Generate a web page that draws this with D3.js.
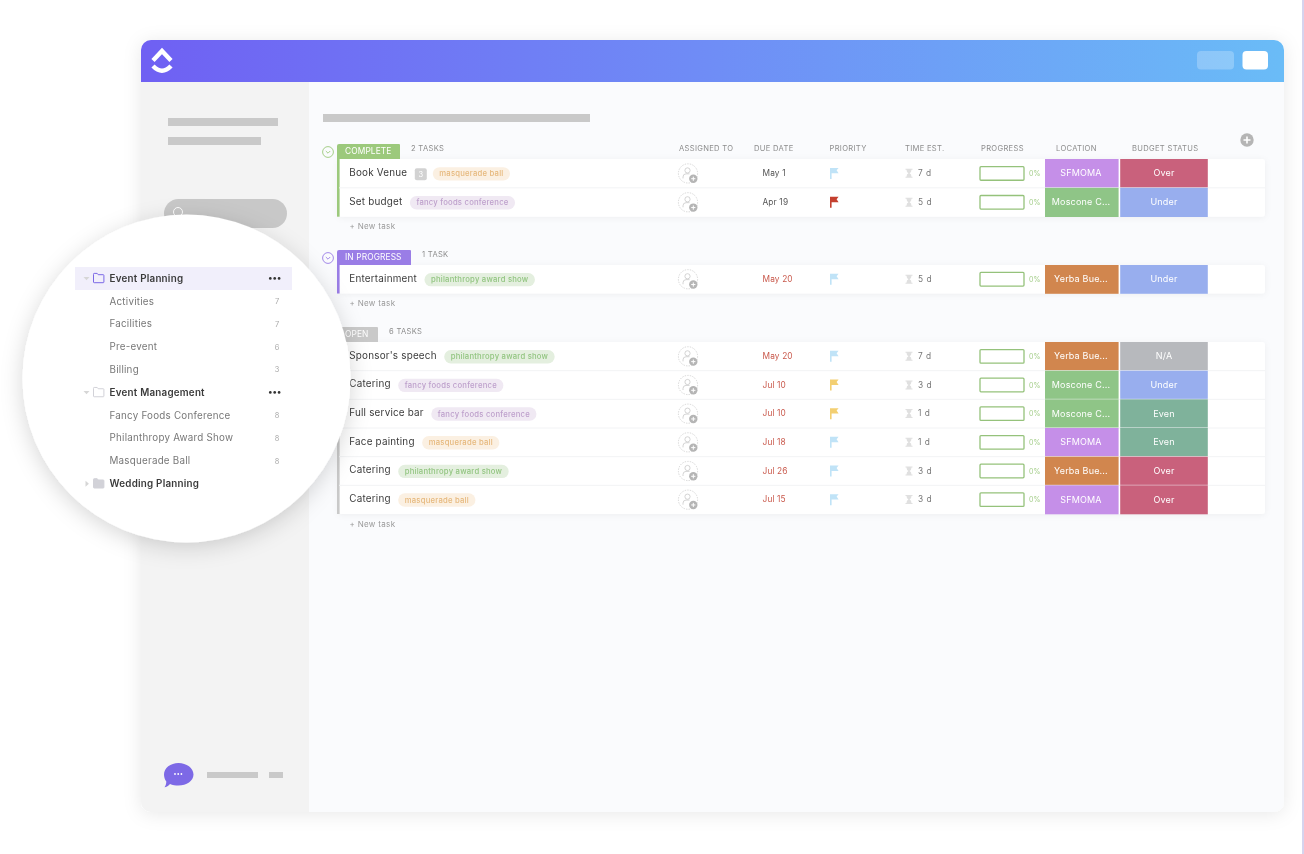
<!DOCTYPE html>
<html>
<head>
<meta charset="utf-8">
<script src="https://cdn.jsdelivr.net/npm/d3@7"></script>
<style>
html, body { margin: 0; padding: 0; background: #fff; overflow: hidden; }
svg { display: block; filter: blur(0.3px); }
text { font-family: "Inter", "Open Sans", sans-serif; }
</style>
</head>
<body>
<script>
var groupNames = ["COMPLETE", "IN PROGRESS", "OPEN"];
var groupCounts = ["2 TASKS", "1 TASK", "6 TASKS"];
var groupSizes = [2, 1, 6];

var columnNames = ["ASSIGNED TO", "DUE DATE", "PRIORITY", "TIME EST.", "PROGRESS", "LOCATION", "BUDGET STATUS"];

var taskNames = ["Book Venue", "Set budget", "Entertainment", "Sponsor's speech", "Catering", "Full service bar", "Face painting", "Catering", "Catering"];
var taskTags = ["masquerade ball", "fancy foods conference", "philanthropy award show", "philanthropy award show", "fancy foods conference", "fancy foods conference", "masquerade ball", "philanthropy award show", "masquerade ball"];
var subtaskCounts = [3, 0, 0, 0, 0, 0, 0, 0, 0];
var dueDates = ["May 1", "Apr 19", "May 20", "May 20", "Jul 10", "Jul 10", "Jul 18", "Jul 26", "Jul 15"];
var dueOverdue = [false, false, true, true, true, true, true, true, true];
var priorities = ["low", "urgent", "low", "low", "normal", "normal", "low", "low", "low"];
var timeEstimates = [7, 5, 5, 7, 3, 1, 1, 3, 3];
var progressValues = [0, 0, 0, 0, 0, 0, 0, 0, 0];
var locations = ["SFMOMA", "Moscone C...", "Yerba Bue...", "Yerba Bue...", "Moscone C...", "Moscone C...", "SFMOMA", "Yerba Bue...", "SFMOMA"];
var budgets = ["Over", "Under", "Under", "N/A", "Under", "Even", "Even", "Over", "Over"];

var sideLabels = ["Event Planning", "Activities", "Facilities", "Pre-event", "Billing", "Event Management", "Fancy Foods Conference", "Philanthropy Award Show", "Masquerade Ball", "Wedding Planning"];
var sideCounts = [null, 7, 7, 6, 3, null, 8, 8, 8, null];
var sideFolders = [true, false, false, false, false, true, false, false, false, true];

var groupColor = d3.scaleOrdinal().domain(groupNames).range(["#9cc97c", "#9a7de6", "#c9c9c9"]);
var tagFill = d3.scaleOrdinal().domain(["masquerade ball", "fancy foods conference", "philanthropy award show"]).range(["#fbf0e2", "#f0e9f3", "#e4efdf"]);
var tagText = d3.scaleOrdinal().domain(["masquerade ball", "fancy foods conference", "philanthropy award show"]).range(["#e6b87c", "#bd9fcb", "#92c580"]);
var flagColor = d3.scaleOrdinal().domain(["low", "normal", "urgent"]).range(["#c0e3f7", "#f3cf72", "#c4402f"]);
var locColor = d3.scaleOrdinal().domain(["SFMOMA", "Moscone C...", "Yerba Bue..."]).range(["#c58fe8", "#8fc587", "#d1864e"]);
var budgetColor = d3.scaleOrdinal().domain(["Over", "Under", "Even", "N/A"]).range(["#c9617c", "#98aeee", "#7fb29b", "#b7b9bd"]);

var width = 1304, height = 854;
var svg = d3.select("body").append("svg").attr("width", width).attr("height", height);
var defs = svg.append("defs");

var grad = defs.append("linearGradient").attr("id", "head").attr("x1", "0").attr("x2", "1").attr("y1", "0").attr("y2", "0");
grad.append("stop").attr("offset", "0").attr("stop-color", "#6f60f3");
grad.append("stop").attr("offset", "0.5").attr("stop-color", "#6f8df6");
grad.append("stop").attr("offset", "1").attr("stop-color", "#6abcf7");

function shadow(id, blur, dy, op) {
    var f = defs.append("filter").attr("id", id).attr("x", "-20%").attr("y", "-20%").attr("width", "140%").attr("height", "140%");
    f.append("feDropShadow").attr("dx", 0).attr("dy", dy).attr("stdDeviation", blur).attr("flood-color", "#000").attr("flood-opacity", op);
}
shadow("winShadow", 9, 2, 0.09);
shadow("circleShadow", 11, 5, 0.16);
shadow("rowShadow", 3, 1, 0.05);

defs.append("clipPath").attr("id", "winClip").append("rect")
    .attr("x", 141).attr("y", 40).attr("width", 1143).attr("height", 772).attr("rx", 10);

svg.append("rect").attr("x", 1302).attr("y", 0).attr("width", 2).attr("height", height).attr("fill", "#d6d4ee");

// app window
svg.append("rect").attr("x", 141).attr("y", 40).attr("width", 1143).attr("height", 772).attr("rx", 10)
    .attr("fill", "#fafbfd").attr("filter", "url(#winShadow)");
var win = svg.append("g").attr("clip-path", "url(#winClip)");
win.append("rect").attr("x", 141).attr("y", 82).attr("width", 168).attr("height", 730).attr("fill", "#f3f3f3");
win.append("rect").attr("x", 141).attr("y", 40).attr("width", 1143).attr("height", 42).attr("fill", "url(#head)");

// logo
var logo = svg.append("g").attr("fill", "none").attr("stroke", "#fff").attr("stroke-width", 4.4);
logo.append("path").attr("d", "M153 60.5 L162 51 L171 60.5").attr("stroke-linejoin", "miter");
logo.append("path").attr("d", "M153 66 Q162 75.5 171 66");

svg.append("rect").attr("x", 1197).attr("y", 51).attr("width", 37).attr("height", 18.5).attr("rx", 4).attr("fill", "#fff").attr("opacity", 0.24);
svg.append("rect").attr("x", 1242.5).attr("y", 51).attr("width", 25.5).attr("height", 18.5).attr("rx", 4).attr("fill", "#fff");

// placeholder bars
var barFill = "#c9c9c9";
[[323, 114, 267, 8], [168, 118, 110, 8], [168, 137, 93, 8], [207, 772, 51, 6], [269, 772, 14, 6]].forEach(function(b) {
    svg.append("rect").attr("x", b[0]).attr("y", b[1]).attr("width", b[2]).attr("height", b[3]).attr("fill", barFill);
});
svg.append("rect").attr("x", 164).attr("y", 199).attr("width", 123).attr("height", 29).attr("rx", 14.5).attr("fill", "#c8c8c8");
svg.append("circle").attr("cx", 178).attr("cy", 212).attr("r", 4.5).attr("fill", "none").attr("stroke", "#fff").attr("stroke-width", 1);

// chat bubble
svg.append("path").attr("d", "M178.5 763 C186.5 763 193.5 768 193.5 774.5 C193.5 781 186.5 785.5 178.5 785.5 C175.5 785.5 172.5 785 170 784 C168.5 786 166.5 787 164.5 787.3 C165.8 785.5 166.3 783.5 166.3 781.5 C164.8 779.5 164 777 164 774.5 C164 768 170.5 763 178.5 763 Z").attr("fill", "#7d69e6");
svg.selectAll(".chatdot").data(d3.range(3)).enter().append("circle")
    .attr("cx", function(d) { return 175 + d * 3.2; }).attr("cy", 774).attr("r", 0.9).attr("fill", "#fff");

// header columns
var colX = d3.scaleOrdinal().domain(columnNames).range([679, 754, 829.5, 905, 981, 1056, 1132]);
svg.selectAll(".colhead").data(columnNames).enter().append("text")
    .attr("class", "colhead")
    .attr("x", function(d) { return colX(d); })
    .attr("y", 151)
    .attr("font-size", 7.6)
    .attr("letter-spacing", 0.3)
    .attr("fill", "#8d8d8d")
    .text(function(d) { return d; });

svg.append("circle").attr("cx", 1247).attr("cy", 140).attr("r", 6.7).attr("fill", "#b5b5b5");
svg.append("path").attr("d", "M1243.5 140 H1250.5 M1247 136.5 V143.5").attr("stroke", "#fff").attr("stroke-width", 1.6);

// task rows
var groupBands = [[159, 216.7], [265, 293.5], [342, 514]];
var groupTagW = [63, 74, 41];
var groupCountX = [411, 422, 389];
var tasks = [];
var offset = 0;
groupNames.forEach(function(g, gi) {
    var y = d3.scaleBand().domain(d3.range(groupSizes[gi])).range(groupBands[gi]);
    d3.range(groupSizes[gi]).forEach(function(k) {
        var i = offset + k;
        tasks.push({ i: i, group: g, top: y(k), h: y.bandwidth() });
    });
    offset += groupSizes[gi];

    var g0 = groupBands[gi];
    svg.append("rect").attr("x", 338).attr("y", g0[0]).attr("width", 927).attr("height", g0[1] - g0[0]).attr("rx", 3)
        .attr("fill", "#fff").attr("filter", "url(#rowShadow)");
    svg.append("rect").attr("x", 337).attr("y", g0[0] - 1).attr("width", 2.6).attr("height", g0[1] - g0[0] + 1).attr("fill", groupColor(g));
    svg.append("path")
        .attr("d", "M337 " + (g0[0]) + " V" + (g0[0] - 13) + " q0 -2 2 -2 H" + (337 + groupTagW[gi] - 1) + " q1 0 1 1 V" + g0[0] + " Z")
        .attr("fill", groupColor(g));
    svg.append("text").attr("x", 345).attr("y", g0[0] - 4.6).attr("font-size", 8.4).attr("letter-spacing", 0.1).attr("fill", "#fff").text(g);
    svg.append("text").attr("x", groupCountX[gi]).attr("y", g0[0] - 8).attr("font-size", 7.6).attr("letter-spacing", 0.3).attr("fill", "#8d8d8d").text(groupCounts[gi]);
    if (gi < 2) {
        svg.append("circle").attr("cx", 328).attr("cy", g0[0] - 7).attr("r", 5.4).attr("fill", "none").attr("stroke", groupColor(g)).attr("stroke-width", 0.9);
        svg.append("path").attr("d", "M325.8 " + (g0[0] - 8) + " l2.2 2.2 l2.2 -2.2").attr("fill", "none").attr("stroke", groupColor(g)).attr("stroke-width", 0.9);
    }
    svg.append("text").attr("x", 349.5).attr("y", g0[1] + 12.5).attr("font-size", 8).attr("letter-spacing", 0.32).attr("fill", "#9a9a9a").text("+ New task");
});

var rows = svg.selectAll(".row").data(tasks).enter().append("g").attr("class", "row");

rows.filter(function(d) { return d.i > 0 && d.i !== 2 && d.i !== 3; }).append("line")
    .attr("x1", 339).attr("x2", 1265)
    .attr("y1", function(d) { return d.top; }).attr("y2", function(d) { return d.top; })
    .attr("stroke", "#f2f3f5").attr("stroke-width", 1);

function cy(d) { return d.top + d.h / 2; }

rows.append("text").attr("class", "tname")
    .attr("x", 349.3)
    .attr("y", function(d) { return cy(d) + 2.4; })
    .attr("font-size", 9.9)
    .attr("letter-spacing", 0.2)
    .attr("fill", "#3b3b3b")
    .text(function(d) { return taskNames[d.i]; });

rows.each(function(d) {
    var r = d3.select(this);
    var end = 349.3 + r.select(".tname").node().getComputedTextLength();
    var x = end + 7.5;
    if (subtaskCounts[d.i]) {
        r.append("rect").attr("x", x).attr("y", cy(d) - 5.3).attr("width", 12).attr("height", 12).attr("rx", 2).attr("fill", "#d2d2d2");
        r.append("text").attr("x", x + 6).attr("y", cy(d) + 3.2).attr("text-anchor", "middle").attr("font-size", 7.5).attr("fill", "#fff").text(subtaskCounts[d.i]);
        x += 18;
    }
    var label = r.append("text").attr("x", x + 6.5).attr("y", cy(d) + 3)
        .attr("font-size", 7.7).attr("letter-spacing", 0.22).attr("font-weight", 500)
        .attr("fill", tagText(taskTags[d.i])).text(taskTags[d.i]);
    var w = label.node().getComputedTextLength();
    r.insert("rect", "text:last-child").attr("x", x).attr("y", cy(d) - 6.3).attr("width", w + 13).attr("height", 13.4).attr("rx", 6.7).attr("fill", tagFill(taskTags[d.i]));
});

// assignee
var avatar = rows.append("g").attr("transform", function(d) { return "translate(688," + cy(d) + ")"; });
avatar.append("circle").attr("r", 9.6).attr("fill", "#fff").attr("stroke", "#c6c6c6").attr("stroke-width", 0.7).attr("stroke-dasharray", "1.4 1.2");
avatar.append("circle").attr("cx", -0.5).attr("cy", -3).attr("r", 2.6).attr("fill", "none").attr("stroke", "#c9c9c9").attr("stroke-width", 0.8);
avatar.append("path").attr("d", "M-5 5 V3.5 Q-5 0.5 -2 0.4 H1.5").attr("fill", "none").attr("stroke", "#c9c9c9").attr("stroke-width", 0.8);
avatar.append("circle").attr("cx", 5.3).attr("cy", 5.3).attr("r", 4.2).attr("fill", "#b5b5b5");
avatar.append("path").attr("d", "M3.2 5.3 H7.4 M5.3 3.2 V7.4").attr("stroke", "#fff").attr("stroke-width", 1);

// due date
rows.append("text")
    .attr("x", 762.5)
    .attr("y", function(d) { return cy(d) + 2.6; })
    .attr("font-size", 8.3).attr("letter-spacing", 0.15)
    .attr("fill", function(d) { return dueOverdue[d.i] ? "#c9594c" : "#555"; })
    .text(function(d) { return dueDates[d.i]; });

// priority flag
rows.append("path")
    .attr("transform", function(d) { return "translate(830," + (cy(d) - 5.5) + ")"; })
    .attr("d", "M0 0 H8.6 L6.6 2.4 L8.6 5.4 H1.6 V11 H0 Z")
    .attr("fill", function(d) { return flagColor(priorities[d.i]); });

// time estimate
rows.append("path")
    .attr("transform", function(d) { return "translate(905.5," + (cy(d) - 4.6) + ")"; })
    .attr("d", "M0 0 H7 V1 H6 Q6 3.6 4.1 4.5 Q6 5.4 6 8 H7 V9 H0 V8 H1 Q1 5.4 2.9 4.5 Q1 3.6 1 1 H0 Z")
    .attr("fill", "#e0e0e0");
rows.append("text")
    .attr("x", 918)
    .attr("y", function(d) { return cy(d) + 2.8; })
    .attr("font-size", 8.3).attr("letter-spacing", 0.5)
    .attr("fill", "#777")
    .text(function(d) { return timeEstimates[d.i] + " d"; });

// progress
var progW = d3.scaleLinear().domain([0, 100]).range([0, 44]);
rows.append("rect")
    .attr("x", 980).attr("y", function(d) { return cy(d) - 6.8; })
    .attr("width", progW(100)).attr("height", 13.6).attr("rx", 1)
    .attr("fill", "#fff").attr("stroke", "#95c27b").attr("stroke-width", 1.3);
rows.append("rect")
    .attr("x", 980).attr("y", function(d) { return cy(d) - 6.8; })
    .attr("width", function(d) { return progW(progressValues[d.i]); }).attr("height", 13.6)
    .attr("fill", "#95c27b");
rows.append("text")
    .attr("x", 1029)
    .attr("y", function(d) { return cy(d) + 2.6; })
    .attr("font-size", 7)
    .attr("fill", "#a3cd88")
    .text(function(d) { return progressValues[d.i] + "%"; });

// location and budget cells
rows.append("rect")
    .attr("x", 1045).attr("y", function(d) { return d.top; })
    .attr("width", 73.6).attr("height", function(d) { return d.h + 0.3; })
    .attr("fill", function(d) { return locColor(locations[d.i]); });
rows.append("text")
    .attr("x", 1081).attr("y", function(d) { return cy(d) + 3; })
    .attr("text-anchor", "middle").attr("font-size", 9).attr("letter-spacing", 0.18).attr("fill", "#fff")
    .text(function(d) { return locations[d.i]; });
rows.append("rect")
    .attr("x", 1120.2).attr("y", function(d) { return d.top; })
    .attr("width", 87.6).attr("height", function(d) { return d.h + 0.3; })
    .attr("fill", function(d) { return budgetColor(budgets[d.i]); });
rows.append("text")
    .attr("x", 1164).attr("y", function(d) { return cy(d) + 3; })
    .attr("text-anchor", "middle").attr("font-size", 9).attr("letter-spacing", 0.18).attr("fill", "#fff")
    .text(function(d) { return budgets[d.i]; });

// magnified sidebar circle
svg.append("circle").attr("cx", 186.5).attr("cy", 378.5).attr("r", 164).attr("fill", "#fff").attr("filter", "url(#circleShadow)");
svg.append("rect").attr("x", 75).attr("y", 267).attr("width", 217).attr("height", 23).attr("fill", "#f1effb");

var sideY = d3.scalePoint().domain(d3.range(sideLabels.length)).range([278.4, 483.7]);
var side = svg.selectAll(".side").data(d3.range(sideLabels.length)).enter().append("g").attr("class", "side");

side.append("text")
    .attr("x", 109.5)
    .attr("y", function(d) { return sideY(d) + 3.3; })
    .attr("font-size", 9.8)
    .attr("font-weight", function(d) { return sideFolders[d] ? 600 : 400; })
    .attr("letter-spacing", 0.24)
    .attr("fill", function(d) { return sideFolders[d] ? "#3a3a3a" : "#777"; })
    .text(function(d) { return sideLabels[d]; });

side.filter(function(d) { return sideCounts[d] !== null; }).append("text")
    .attr("x", 277).attr("y", function(d) { return sideY(d) + 2.8; })
    .attr("text-anchor", "middle").attr("font-size", 7.4).attr("fill", "#aaa")
    .text(function(d) { return sideCounts[d]; });

side.filter(function(d) { return sideFolders[d]; }).each(function(d, k) {
    var g = d3.select(this), y = sideY(d);
    if (k < 2) {
        g.append("path").attr("d", "M83.5 " + (y - 1.5) + " h6 l-3 3.4 Z").attr("fill", "#d6d6d6");
        g.selectAll(".dot").data(d3.range(3)).enter().append("circle")
            .attr("cx", function(n) { return 270.3 + n * 4.4; }).attr("cy", y).attr("r", 1.35).attr("fill", "#333");
    } else {
        g.append("path").attr("d", "M85.5 " + (y - 3) + " l3.4 3 l-3.4 3 Z").attr("fill", "#d6d6d6");
    }
    var col = k === 0 ? "#7b68e6" : "#d2d2d8";
    g.append("path")
        .attr("d", "M93.5 " + (y - 3.7) + " v-0.6 q0 -0.7 .7 -.7 h3 l1 1.3 h5 q.7 0 .7 .7 v6.6 q0 .7 -.7 .7 h-9 q-.7 0 -.7 -.7 Z")
        .attr("fill", k === 2 ? col : "none")
        .attr("stroke", col).attr("stroke-width", 1);
});
</script>
</body>
</html>
